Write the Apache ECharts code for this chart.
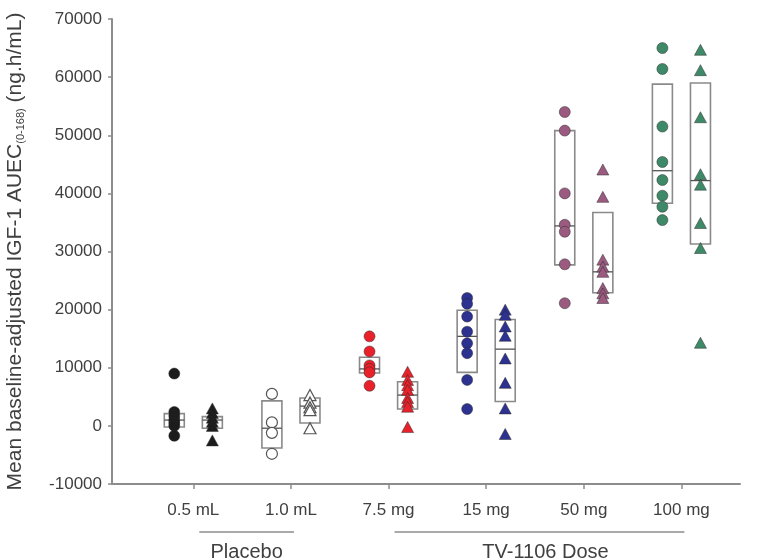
<!DOCTYPE html>
<html>
<head>
<meta charset="utf-8">
<script src="https://cdn.jsdelivr.net/npm/echarts@6/dist/echarts.min.js"></script>
<style>html,body{margin:0;padding:0;background:#fff}#c{width:760px;height:560px}</style>
</head>
<body>
<div id="c"></div>
<script>
// ---- data ----
const doseLabels = ['0.5 mL', '1.0 mL', '7.5 mg', '15 mg', '50 mg', '100 mg'];
const groupNames = ['Placebo', 'TV-1106 Dose'];
const yTicks = [-10000, 0, 10000, 20000, 30000, 40000, 50000, 60000, 70000];

// individual values (circles = first subgroup, triangles = second subgroup)
const circles05mL = [9000, 2400, 1700, 1000, 500, 0, -1700];
const triangles05mL = [3000, 2200, 1400, 700, 0, -2500];
const circles10mL = [5500, 600, -1200, -4800];
const triangles10mL = [5300, 4000, 3200, 2700, -400];
const circles75mg = [15400, 12800, 10400, 9800, 9200, 6900];
const triangles75mg = [9300, 7900, 7000, 6200, 4800, 4100, 3300, -200];
const circles15mg = [22000, 21000, 18800, 16200, 14200, 12500, 7900, 2900];
const triangles15mg = [20000, 19100, 17100, 15500, 11600, 7400, 3000, -1400];
const circles50mg = [54000, 50800, 40000, 34600, 33400, 27800, 21100];
const triangles50mg = [44100, 39400, 28600, 27400, 26500, 23700, 22800, 22000];
const circles100mg = [65000, 61400, 51500, 45400, 42300, 39600, 37700, 35400];
const triangles100mg = [64700, 61200, 53100, 43300, 41500, 34900, 30600, 14300];

// box (25th percentile, median, 75th percentile)
const boxCircles = [
  [-200, 1000, 2100], [-3800, -400, 4300], [9100, 9800, 11800],
  [9200, 15400, 19900], [27700, 34400, 50800], [38300, 43900, 58800]
];
const boxTriangles = [
  [-400, 1000, 1600], [500, 3400, 4800], [2900, 5300, 7600],
  [4200, 13200, 18300], [22900, 26500, 36700], [31300, 42200, 59000]
];

const circleSets = [circles05mL, circles10mL, circles75mg, circles15mg, circles50mg, circles100mg];
const triangleSets = [triangles05mL, triangles10mL, triangles75mg, triangles15mg, triangles50mg, triangles100mg];
const groupColors = ['#1c1c1c', '#ffffff', '#e8212b', '#2d3190', '#9b5a7f', '#3e8a68'];
const groupSpans = [[0, 1], [2, 5]];

// ---- chart ----
const OFF = 0.195;
const FONT = 'Liberation Sans, Arial, sans-serif';
const chart = echarts.init(document.getElementById('c'));
const series = [];

function boxSeries(boxes, off) {
  return {
    type: 'custom',
    z: 1,
    silent: true,
    data: boxes.map((b, i) => [i + off, b[0], b[1], b[2]]),
    encode: { x: 0, y: [1, 2, 3] },
    renderItem: function (params, api) {
      const x = api.value(0);
      const lo = api.coord([x, api.value(1)]);
      const md = api.coord([x, api.value(2)]);
      const hi = api.coord([x, api.value(3)]);
      const hw = 10;
      return {
        type: 'group',
        children: [
          { type: 'rect', shape: { x: lo[0] - hw, y: hi[1], width: hw * 2, height: lo[1] - hi[1] },
            style: { fill: 'rgba(255,255,255,0)', stroke: '#8a8a8a', lineWidth: 1.6 } },
          { type: 'line', shape: { x1: lo[0] - hw, y1: md[1], x2: lo[0] + hw, y2: md[1] },
            style: { stroke: '#555', lineWidth: 1.3 } }
        ]
      };
    }
  };
}
series.push(boxSeries(boxCircles, -OFF));
series.push(boxSeries(boxTriangles, OFF));

circleSets.forEach((vals, i) => {
  series.push({
    type: 'scatter', z: 3, symbol: 'circle', symbolSize: 11,
    data: vals.map(v => [i - OFF, v]),
    itemStyle: { color: groupColors[i], borderColor: i === 1 ? '#555' : 'rgba(40,40,40,0.6)', borderWidth: i === 1 ? 1.2 : 0.8, opacity: 1 }
  });
});
triangleSets.forEach((vals, i) => {
  series.push({
    type: 'scatter', z: 3, symbol: 'triangle', symbolSize: [12, 11],
    data: vals.map(v => [i + OFF, v]),
    itemStyle: { color: groupColors[i], borderColor: i === 1 ? '#555' : 'rgba(40,40,40,0.6)', borderWidth: i === 1 ? 1.2 : 0.8, opacity: 1 }
  });
});

const axisGrey = '#8c8c8c';
const textCol = '#404040';
const tickIdx = doseLabels.map((_, i) => i);

chart.setOption({
  animation: false,
  backgroundColor: '#fff',
  textStyle: { fontFamily: FONT },
  grid: { left: 112, right: 20, top: 19, bottom: 76, containLabel: false, outerBoundsMode: 'none' },
  xAxis: {
    type: 'value', min: -0.833, max: 5.6,
    splitLine: { show: false },
    axisLine: { show: true, onZero: false, lineStyle: { color: axisGrey, width: 2 } },
    axisTick: { show: true, length: 5, customValues: tickIdx, lineStyle: { color: axisGrey, width: 1.5 } },
    axisLabel: { customValues: tickIdx, margin: 18, fontSize: 17, color: textCol,
      formatter: v => doseLabels[Math.round(v)] }
  },
  yAxis: {
    type: 'value', min: yTicks[0], max: yTicks[yTicks.length - 1], interval: 10000,
    splitLine: { show: false },
    axisLine: { show: true, onZero: false, lineStyle: { color: axisGrey, width: 2 } },
    axisTick: { show: true, length: 4, lineStyle: { color: axisGrey, width: 1.5 } },
    axisLabel: { fontSize: 17, color: textCol, margin: 10, formatter: v => String(v) },
    name: '{a|Mean baseline-adjusted IGF-1 AUEC}{s|(0-168)}{a| (ng.h/mL)}',
    nameLocation: 'middle', nameRotate: 90, nameGap: 86,
    nameTextStyle: {
      rich: {
        a: { fontSize: 21, color: textCol, fontFamily: FONT },
        s: { fontSize: 11, color: textCol, verticalAlign: 'bottom', padding: [8, 0, 0, 0], fontFamily: FONT }
      }
    }
  },
  series: series
});

// group brackets under the axis, positioned from the axis scale
const baseY = chart.convertToPixel({ yAxisIndex: 0 }, yTicks[0]);
const graphics = [];
groupSpans.forEach((span, g) => {
  const x1 = chart.convertToPixel({ xAxisIndex: 0 }, span[0]) + 6;
  const x2 = chart.convertToPixel({ xAxisIndex: 0 }, span[1]) + 3;
  graphics.push({ type: 'line', shape: { x1: x1, y1: baseY + 48, x2: x2, y2: baseY + 48 },
    style: { stroke: '#8c8c8c', lineWidth: 1.5 } });
  graphics.push({ type: 'text', x: (x1 + x2) / 2 + (g === 1 ? 6 : 0), y: baseY + 68,
    style: { text: groupNames[g], fontSize: 20, fill: textCol, align: 'center', verticalAlign: 'middle',
      fontFamily: FONT } });
});
chart.setOption({ graphic: graphics });
</script>
</body>
</html>
